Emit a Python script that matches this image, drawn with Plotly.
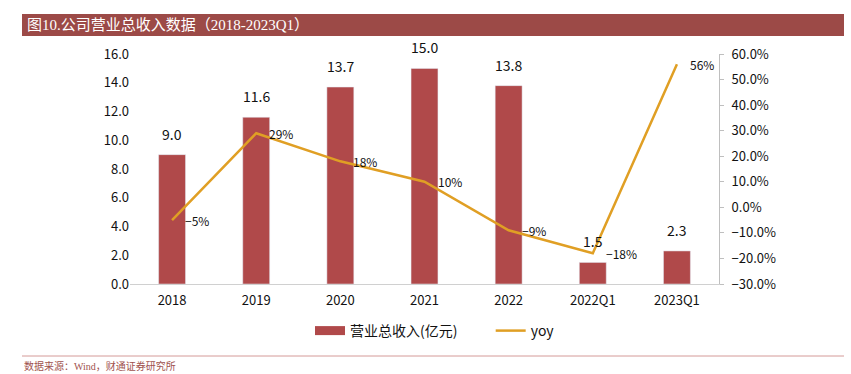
import plotly.graph_objects as go

categories = ["2018", "2019", "2020", "2021", "2022", "2022Q1", "2023Q1"]
revenue = [9.0, 11.6, 13.7, 15.0, 13.8, 1.5, 2.3]
yoy = [-5, 29, 18, 10, -9, -18, 56]
left_ticks = [0, 2, 4, 6, 8, 10, 12, 14, 16]
right_ticks = [-30, -20, -10, 0, 10, 20, 30, 40, 50, 60]

title_text = "图10.公司营业总收入数据（2018-2023Q1）"
source_text = "数据来源：Wind，财通证券研究所"
bar_name = "营业总收入(亿元)"
line_name = "yoy"

BAR_C = "#B0494A"
LINE_C = "#E09F24"
HEAD_C = "#9C4A47"
FONT = "Noto Sans CJK SC, Liberation Sans, sans-serif"


def fmt_num(v, dec):
    s = f"{abs(v):.{dec}f}"
    return ("−" + s) if v < 0 else s


fig = go.Figure()
fig.add_trace(go.Bar(
    x=categories, y=revenue, name=bar_name, marker_color=BAR_C,
    width=0.32, yaxis="y", showlegend=False,
))
# legend entry for the bars (wide rectangle like the reference)
fig.add_trace(go.Scatter(
    x=[None], y=[None], name=bar_name + "\u00a0" * 9, mode="lines",
    line=dict(color=BAR_C, width=9), yaxis="y",
))
fig.add_trace(go.Scatter(
    x=categories, y=yoy, name=line_name, yaxis="y2", mode="lines",
    line=dict(color=LINE_C, width=2.5),
))

annotations = []
for i, v in enumerate(revenue):
    annotations.append(dict(
        x=i, y=v, xref="x", yref="y", text=f"{v:.1f}", showarrow=False,
        yanchor="bottom", yshift=9, font=dict(size=14, color="#111111", family=FONT),
    ))
for i, v in enumerate(yoy):
    annotations.append(dict(
        x=i, y=v, xref="x", yref="y2", text=fmt_num(v, 0) + "%", showarrow=False,
        xanchor="left", yanchor="middle", xshift=11,
        font=dict(size=12, color="#111111", family=FONT),
    ))

W, H = 851, 374
L, R, T, B = 130, 132, 54, 90
pw, ph = W - L - R, H - T - B


def px_x(x):
    return (x - L) / pw


def px_y(y):
    return 1 - (y - T) / ph


annotations.append(dict(
    x=px_x(25), y=px_y(25), xref="paper", yref="paper", text=title_text,
    showarrow=False, xanchor="left", yanchor="middle",
    font=dict(size=15, color="white", family="Liberation Serif, Noto Sans CJK SC, serif"),
))
annotations.append(dict(
    x=px_x(22), y=px_y(366), xref="paper", yref="paper", text=source_text,
    showarrow=False, xanchor="left", yanchor="middle",
    font=dict(size=10, color="#A0524E", family="Liberation Serif, Noto Sans CJK SC, serif"),
))

shapes = [
    dict(type="rect", xref="paper", yref="paper", x0=px_x(22), x1=px_x(844),
         y0=px_y(36), y1=px_y(14), fillcolor=HEAD_C, line=dict(width=0), layer="below"),
    dict(type="line", xref="paper", yref="paper", x0=px_x(22), x1=px_x(844),
         y0=px_y(356), y1=px_y(356), line=dict(color="#D49A98", width=1)),
]

fig.update_layout(
    width=W, height=H,
    margin=dict(l=L, r=R, t=T, b=B, autoexpand=False),
    paper_bgcolor="white", plot_bgcolor="white",
    font=dict(family=FONT, size=13, color="#111111"),
    xaxis=dict(
        type="category", categoryorder="array", categoryarray=categories,
        range=[-0.5, len(categories) - 0.5],
        showgrid=False, showline=True, linecolor="#D0D0D0", linewidth=1,
        ticks="", tickfont=dict(size=13), zeroline=False, automargin=False,
        ticklabelstandoff=4,
    ),
    yaxis=dict(
        range=[0, 16], tickvals=left_ticks, ticktext=[f"{v:.1f}" for v in left_ticks],
        showgrid=False, zeroline=False, showline=False, ticks="",
        tickfont=dict(size=13), automargin=False,
    ),
    yaxis2=dict(
        range=[-30, 60], tickvals=right_ticks,
        ticktext=[fmt_num(v, 1) + "%" for v in right_ticks],
        overlaying="y", side="right", showgrid=False, zeroline=False,
        showline=True, linecolor="#BFBFBF", linewidth=1,
        ticks="outside", ticklen=4, tickcolor="#BFBFBF",
        tickfont=dict(size=13), automargin=False, ticklabelstandoff=5,
    ),
    legend=dict(
        orientation="h", x=px_x(310), xanchor="left", y=px_y(331), yanchor="middle",
        font=dict(size=14), traceorder="normal", itemwidth=30,
    ),
    showlegend=True,
    hovermode=False,
    annotations=annotations,
    shapes=shapes,
)

fig.write_html("out.html", config={"displayModeBar": False},
               post_script="document.body.style.margin='0';")
